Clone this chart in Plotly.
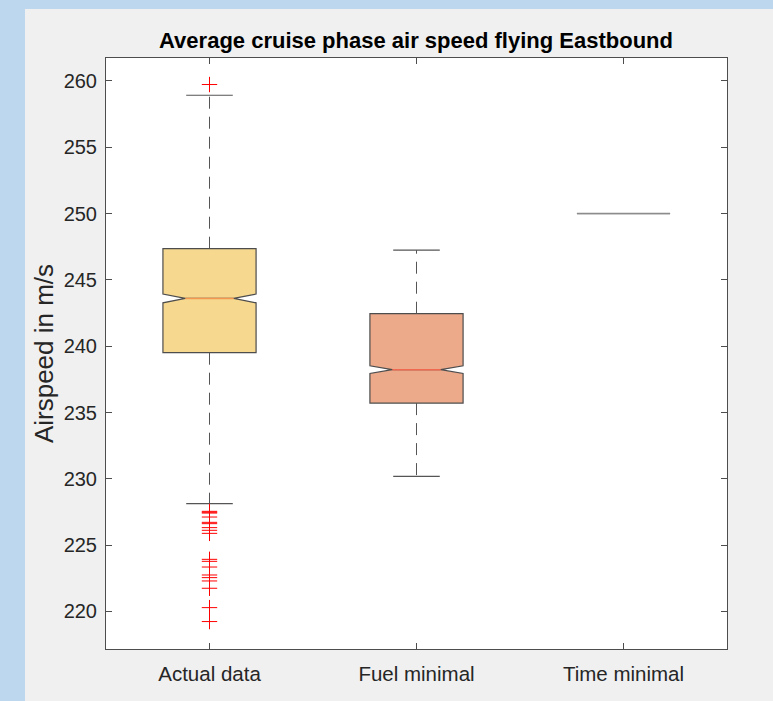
import plotly.graph_objects as go

# Box statistics per scenario (m/s)
categories = ["Actual data", "Fuel minimal", "Time minimal"]
positions = [1, 2, 3]
q1_vals = [239.51, 235.71, 250.0]
median_vals = [243.60, 238.23, 250.0]
q3_vals = [247.35, 242.45, 250.0]
lower_whisker = [228.13, 230.19, 250.0]
upper_whisker = [258.92, 247.24, 250.0]
notch_spans = [0.33, 0.29, 0.0]

# Outliers of the recorded flights
outliers_actual = [259.73, 227.55, 227.48, 227.42, 227.12, 226.72, 226.62,
                   226.32, 226.12, 225.89, 223.93, 223.78, 223.35, 222.75,
                   222.55, 222.30, 221.75, 220.29, 219.24]

box_fills = ["#f6d88f", "#ecaa8b", "rgba(0,0,0,0)"]
median_colors = ["#f3994f", "#ef6a50", "#8c8c8c"]
edge_colors = ["#4d4d4d", "#4d4d4d", "#8c8c8c"]

BOX_W = 0.45
NOTCH_W = 0.24
AXIS_COL = "#4d4d4d"
TEXT_COL = "#262626"

fig = go.Figure()

# Notched boxes from precomputed quartiles
for i, pos in enumerate(positions):
    notched = notch_spans[i] > 0
    fig.add_trace(go.Box(
        x=[pos], q1=[q1_vals[i]], median=[median_vals[i]], q3=[q3_vals[i]],
        lowerfence=[q1_vals[i]], upperfence=[q3_vals[i]],
        notchspan=[notch_spans[i]] if notched else None,
        notched=notched, notchwidth=NOTCH_W, width=BOX_W, whiskerwidth=0,
        fillcolor=box_fills[i], line=dict(color=edge_colors[i], width=1.2),
        boxpoints=False, showlegend=False, hoverinfo="skip",
    ))

# Dashed whiskers and solid caps
wx, wy, cx, cy = [], [], [], []
for i, pos in enumerate(positions):
    if upper_whisker[i] > q3_vals[i]:
        wx += [pos, pos, None]
        wy += [q3_vals[i], upper_whisker[i], None]
        cx += [pos - BOX_W / 4, pos + BOX_W / 4, None]
        cy += [upper_whisker[i], upper_whisker[i], None]
    if lower_whisker[i] < q1_vals[i]:
        wx += [pos, pos, None]
        wy += [q1_vals[i], lower_whisker[i], None]
        cx += [pos - BOX_W / 4, pos + BOX_W / 4, None]
        cy += [lower_whisker[i], lower_whisker[i], None]

fig.add_trace(go.Scatter(x=wx, y=wy, mode="lines",
                         line=dict(color="#555555", width=1, dash="12px,8px"),
                         showlegend=False, hoverinfo="skip"))
fig.add_trace(go.Scatter(x=cx, y=cy, mode="lines",
                         line=dict(color="#555555", width=1.2),
                         showlegend=False, hoverinfo="skip"))

# Coloured median lines across the notch waist
for i, pos in enumerate(positions):
    half = BOX_W / 2 * ((1 - 2 * NOTCH_W) if notch_spans[i] > 0 else 1)
    fig.add_trace(go.Scatter(x=[pos - half, pos + half],
                             y=[median_vals[i], median_vals[i]], mode="lines",
                             line=dict(color=median_colors[i], width=1.5),
                             showlegend=False, hoverinfo="skip"))

# Outlier markers
fig.add_trace(go.Scatter(
    x=[positions[0]] * len(outliers_actual), y=outliers_actual, mode="markers",
    marker=dict(symbol="cross-thin", size=11, line=dict(color="#ff0000", width=1)),
    showlegend=False, hoverinfo="skip"))

axis_common = dict(
    showline=True, linecolor=AXIS_COL, linewidth=1, mirror="ticks",
    ticks="inside", ticklen=6, tickcolor=AXIS_COL, tickwidth=1,
    showgrid=False, zeroline=False,
)

fig.update_layout(
    width=773, height=701,
    margin=dict(l=106, r=46, t=58, b=52),
    paper_bgcolor="#f0f0f0", plot_bgcolor="#ffffff",
    title=dict(text="Average cruise phase air speed flying Eastbound",
               x=416 / 773, xanchor="center", y=1 - 40 / 701, yanchor="middle",
               yref="container",
               font=dict(family="Liberation Sans", size=22, color="#000000", weight="bold")),
    xaxis=dict(range=[0.5, 3.5], tickvals=positions, ticktext=categories,
               tickfont=dict(family="Liberation Sans", size=20.5, color=TEXT_COL),
               ticklabelstandoff=6, **axis_common),
    yaxis=dict(range=[217.17, 261.73], tick0=220, dtick=5,
               tickfont=dict(family="Liberation Sans", size=20, color=TEXT_COL),
               title=dict(text="Airspeed in m/s", standoff=2,
                          font=dict(family="Liberation Sans", size=26, color=TEXT_COL)),
               ticklabelstandoff=4, **axis_common),
    shapes=[
        dict(type="rect", xref="paper", yref="paper", x0=-0.3, x1=1.2,
             y0=(649 - 9) / 591, y1=1.3, fillcolor="#bdd7ee", line=dict(width=0), layer="below"),
        dict(type="rect", xref="paper", yref="paper", x0=-0.3, x1=(25 - 106) / 621,
             y0=-0.3, y1=1.3, fillcolor="#bdd7ee", line=dict(width=0), layer="below"),
    ],
)

fig.write_html("out.html")
